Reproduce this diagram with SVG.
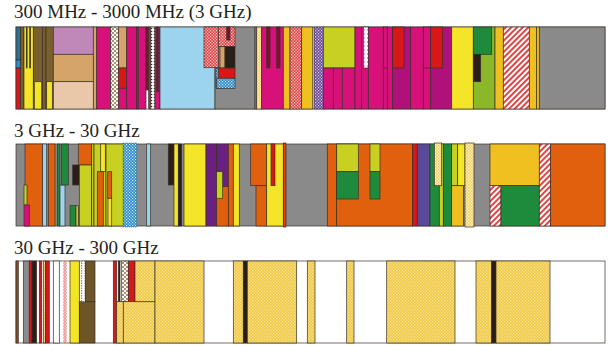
<svg xmlns="http://www.w3.org/2000/svg" width="610" height="346" viewBox="0 0 610 346">
<defs>
<style>
text{font-family:"Liberation Serif","Times New Roman",serif;font-size:19px;fill:#231f20}
.b rect{stroke:#3a302a;stroke-width:0.7}
.mg{fill:#d8107a}.pm{fill:#b0107a}.ye{fill:#f5e528}.go{fill:#f0c020}.or{fill:#e0600e}
.gr{fill:#8a8a8a}.lb{fill:#9cd4ee}.gn{fill:#1e8a3c}.yg{fill:#c8d022}.lg{fill:#8ab828}
.pu{fill:#6a2080}.bp{fill:#584a98}.rd{fill:#d81818}.tn{fill:#d4a46a}.mv{fill:#c088b8}
.pc{fill:#e8c8a8}.ob{fill:#7a6030}.dk{fill:#2a1e18}.mr{fill:#801030}.wh{fill:#ffffff}
.bn{fill:#8b4a20}.bw{fill:#6e5528}
.pdb{fill:url(#dotsBrown)}.pdd{fill:url(#dotsDark)}.pdp{fill:url(#dotsPink)}.pdw{fill:url(#dotsWhite)}
.pcr{fill:url(#checkRed)}.pcb{fill:url(#checkBlue)}.pcp{fill:url(#checkPurple)}.pcg{fill:url(#checkGold)}
.psr{fill:url(#stripesRed)}.pdy{fill:url(#dotYellow)}
</style>
<pattern id="dotsBrown" width="4" height="4" patternUnits="userSpaceOnUse"><rect width="4" height="4" fill="#fff"/><circle cx="1" cy="1" r="0.9" fill="#8b5a2b"/><circle cx="3" cy="3" r="0.9" fill="#8b5a2b"/></pattern>
<pattern id="dotsDark" width="3" height="3" patternUnits="userSpaceOnUse"><rect width="3" height="3" fill="#fff"/><circle cx="1.5" cy="1.5" r="0.8" fill="#3a2a20"/></pattern>
<pattern id="dotsPink" width="3" height="4" patternUnits="userSpaceOnUse"><rect width="3" height="4" fill="#fff"/><circle cx="1.5" cy="2" r="0.8" fill="#e070a8"/></pattern>
<pattern id="dotsWhite" width="3" height="3" patternUnits="userSpaceOnUse"><rect width="3" height="3" fill="#fff"/><rect width="1" height="3" fill="#a07850"/></pattern>
<pattern id="checkRed" width="3" height="3" patternUnits="userSpaceOnUse"><rect width="3" height="3" fill="#e04848"/><rect width="1.2" height="1.2" fill="#fbd0d0"/><rect x="1.5" y="1.5" width="1.2" height="1.2" fill="#fbd0d0"/></pattern>
<pattern id="checkBlue" width="3" height="3" patternUnits="userSpaceOnUse"><rect width="3" height="3" fill="#2a88cc"/><rect width="1.2" height="1.2" fill="#d0ecfa"/><rect x="1.5" y="1.5" width="1.2" height="1.2" fill="#d0ecfa"/></pattern>
<pattern id="checkPurple" width="3" height="3" patternUnits="userSpaceOnUse"><rect width="3" height="3" fill="#6a4a98"/><rect width="1.2" height="1.2" fill="#d8c8ec"/><rect x="1.5" y="1.5" width="1.2" height="1.2" fill="#d8c8ec"/></pattern>
<pattern id="checkGold" width="3" height="3" patternUnits="userSpaceOnUse"><rect width="3" height="3" fill="#f0c840"/><rect width="1.3" height="1.3" fill="#f8e498"/><rect x="1.5" y="1.5" width="1.3" height="1.3" fill="#f8e498"/></pattern>
<pattern id="dotYellow" width="3" height="3" patternUnits="userSpaceOnUse"><rect width="3" height="3" fill="#f3d060"/><rect width="1.3" height="1.3" fill="#fff8d8"/><rect x="1.5" y="1.5" width="1.3" height="1.3" fill="#fff8d8"/></pattern>
<pattern id="stripesRed" width="4" height="4" patternUnits="userSpaceOnUse" patternTransform="rotate(45)"><rect width="4" height="4" fill="#fff"/><rect width="1.8" height="4" fill="#e03030"/></pattern>
</defs>
<rect width="610" height="346" fill="#fff"/>
<text x="14" y="18">300 MHz - 3000 MHz (3 GHz)</text>
<text x="14" y="137">3 GHz - 30 GHz</text>
<text x="14" y="254">30 GHz - 300 GHz</text>

<g id="band1" class="b">
<rect x="16" y="27" width="589" height="82" class="wh"/>
<rect x="16" y="27" width="4.7" height="33" fill="#2a7090"/>
<rect x="16" y="60" width="4.7" height="8" fill="#2090d0"/>
<rect x="16" y="68" width="4.7" height="41" class="rd"/>
<rect x="20.7" y="27" width="3.3" height="82" class="ob"/>
<rect x="24" y="27" width="9.3" height="82" class="ye"/>
<rect x="26.3" y="27" width="0.8" height="41" class="dk"/>
<rect x="29.7" y="27" width="0.8" height="41" class="dk"/>
<rect x="33.3" y="27" width="9.4" height="82" class="ob"/>
<rect x="34.3" y="81.7" width="7.4" height="27.3" class="ye"/>
<rect x="42.7" y="27" width="3.3" height="82" class="ob"/>
<rect x="46" y="27" width="7.3" height="82" class="ob"/>
<rect x="46.7" y="81.7" width="5.6" height="27.3" class="ye"/>
<rect x="53.3" y="27" width="40" height="27.3" class="mv"/>
<rect x="53.3" y="54.3" width="40" height="27.4" class="tn"/>
<rect x="53.3" y="81.7" width="40" height="27.3" class="pc"/>
<rect x="93.3" y="27" width="3.4" height="82" class="tn"/>
<rect x="96.7" y="27" width="14" height="82" class="mg"/>
<rect x="110.7" y="27" width="8" height="82" class="pdb"/>
<rect x="118.7" y="27" width="8" height="41" class="tn"/>
<rect x="118.7" y="68" width="8" height="20.3" class="rd"/>
<rect x="118.7" y="88.3" width="8" height="20.7" class="mg"/>
<rect x="126.7" y="27" width="10" height="82" class="mg"/>
<rect x="136.7" y="27" width="1.6" height="82" class="pm"/>
<rect x="138.3" y="27" width="7.7" height="82" class="mg"/>
<rect x="146" y="27" width="2.7" height="63" class="mr"/>
<rect x="148.7" y="27" width="2" height="82" class="mg"/>
<rect x="150.7" y="27" width="4.3" height="82" class="pdd"/>
<rect x="155" y="27" width="5" height="82" class="mg"/>
<rect x="156.7" y="27" width="1.6" height="64.7" class="mr"/>
<rect x="160" y="27" width="55" height="82" class="lb"/>
<rect x="215" y="27" width="40" height="82" class="gr"/>
<rect x="204" y="27" width="14.3" height="40.7" class="pcr"/>
<rect x="216" y="68" width="4" height="20.3" class="pcb"/>
<rect x="218.3" y="27" width="16.7" height="19.7" class="pcr"/>
<rect x="226.7" y="27" width="3.3" height="13" class="mr"/>
<rect x="220" y="46.7" width="5" height="21.3" class="tn"/>
<rect x="225" y="46.7" width="10" height="21.3" class="dk"/>
<rect x="218.3" y="68" width="16.7" height="10.3" class="rd"/>
<rect x="216.7" y="78.3" width="18.3" height="10" class="pcb"/>
<rect x="255" y="27" width="1.7" height="82" class="gr"/>
<rect x="256.7" y="27" width="5" height="82" class="pdy"/>
<rect x="261.7" y="27" width="21.6" height="82" class="mg"/>
<rect x="266.7" y="27" width="3.3" height="41" class="mr"/>
<rect x="276.7" y="27" width="3.3" height="41" class="mr"/>
<rect x="283.3" y="27" width="6.7" height="82" class="go"/>
<rect x="290" y="27" width="11.7" height="82" class="pcr"/>
<rect x="301.7" y="27" width="11" height="82" class="go"/>
<rect x="314" y="27" width="9.3" height="82" class="pcp"/>
<rect x="323.3" y="27" width="31.7" height="41" class="yg"/>
<rect x="323.3" y="68" width="10" height="41" class="mg"/>
<rect x="333.3" y="68" width="9" height="41" class="mg"/>
<rect x="342.3" y="68" width="12.7" height="41" class="mg"/>
<rect x="355" y="27" width="6.7" height="82" class="mg"/>
<rect x="361.7" y="27" width="6.6" height="82" class="mg"/>
<rect x="363.3" y="27" width="5" height="41" class="pdp"/>
<rect x="368.3" y="27" width="15" height="82" class="mg"/>
<rect x="383.3" y="27" width="4" height="82" class="mg"/>
<rect x="383.3" y="27" width="4" height="41" class="mg"/>
<rect x="387.3" y="27" width="5.4" height="82" class="mg"/>
<rect x="392.7" y="27" width="18" height="82" class="pm"/>
<rect x="392.7" y="27" width="11.3" height="41" class="rd"/>
<rect x="410.7" y="27" width="12.6" height="82" class="mg"/>
<rect x="423.3" y="27" width="7.4" height="82" class="mg"/>
<rect x="423.3" y="27" width="7.4" height="41" class="mg"/>
<rect x="430.7" y="27" width="21" height="82" class="pm"/>
<rect x="430.7" y="27" width="12" height="41" class="rd"/>
<rect x="451.7" y="27" width="21.6" height="82" class="ye"/>
<rect x="473.3" y="27" width="21.7" height="82" class="lg"/>
<rect x="473.3" y="27" width="18.4" height="27.3" class="gn"/>
<rect x="473.3" y="54.3" width="7.4" height="27.4" class="dk"/>
<rect x="495" y="27" width="8.3" height="82" class="go"/>
<rect x="503.3" y="27" width="26" height="82" class="psr"/>
<rect x="529.3" y="27" width="7.4" height="82" class="go"/>
<rect x="536.7" y="27" width="2.6" height="82" class="go"/>
<rect x="539.3" y="27" width="65.7" height="82" class="gr"/>
</g>

<g id="band2" class="b">
<rect x="16" y="144" width="589" height="82" class="gr"/>
<rect x="25" y="144" width="17.7" height="82" class="or"/>
<rect x="24" y="185" width="3" height="20" class="yg"/>
<rect x="24" y="205" width="5.3" height="21" class="mg"/>
<rect x="42.7" y="144" width="4" height="82" class="lb"/>
<rect x="48.3" y="144" width="6.7" height="82" class="or"/>
<rect x="57.3" y="144" width="2.7" height="82" class="gn"/>
<rect x="60" y="185" width="5" height="41" class="lb"/>
<rect x="61.7" y="144" width="6.6" height="41" class="gn"/>
<rect x="72.7" y="165" width="6.6" height="20" class="dk"/>
<rect x="70" y="205.7" width="6" height="20.3" class="gn"/>
<rect x="76" y="205.7" width="2.3" height="20.3" class="yg"/>
<rect x="78.3" y="144" width="13.4" height="21" class="or"/>
<rect x="79.3" y="165" width="12.4" height="61" class="yg"/>
<rect x="91.7" y="144" width="2.3" height="82" class="yg"/>
<rect x="94" y="144" width="12" height="82" class="yg"/>
<rect x="100.7" y="144" width="4.6" height="27.7" class="ye"/>
<rect x="97.3" y="171.7" width="6" height="54.3" class="or"/>
<rect x="106" y="144" width="17.3" height="82" class="yg"/>
<rect x="107.7" y="171.7" width="4" height="26.6" class="or"/>
<rect x="108" y="198.3" width="3.7" height="27.7" class="ye"/>
<rect x="123.3" y="143" width="13.4" height="84" class="pcb" style="stroke:#2a6a3a;stroke-dasharray:1 1"/>
<rect x="146.7" y="144" width="4" height="82" class="lb"/>
<rect x="168.3" y="144" width="5.7" height="41" class="dk"/>
<rect x="174" y="144" width="4.3" height="82" class="ye"/>
<rect x="178.3" y="144" width="3.4" height="82" class="dk"/>
<rect x="184" y="144" width="22" height="82" class="ye"/>
<rect x="206" y="144" width="10.7" height="82" class="pu"/>
<rect x="216.7" y="144" width="11.6" height="42.7" class="pu"/>
<rect x="216.7" y="186.7" width="11.6" height="39.3" class="or"/>
<rect x="216.7" y="171.7" width="6" height="26.6" class="yg"/>
<rect x="228.3" y="144" width="5" height="82" class="or"/>
<rect x="233.3" y="144" width="6" height="82" class="ye"/>
<rect x="250.7" y="144" width="16" height="41.7" class="or"/>
<rect x="256" y="185.7" width="10.7" height="40.3" class="or"/>
<rect x="266.7" y="144" width="16.6" height="82" class="ye"/>
<rect x="271" y="144" width="4" height="41.7" class="rd"/>
<rect x="283.3" y="143" width="2.7" height="84" fill="#e04010"/>
<rect x="327.3" y="144" width="9.4" height="82" class="or"/>
<rect x="336.7" y="144" width="76" height="82" class="or"/>
<rect x="336.7" y="144" width="21.6" height="27.7" class="yg"/>
<rect x="336.7" y="171.7" width="21.6" height="27.3" class="gn"/>
<rect x="370" y="144" width="10" height="27.7" class="yg"/>
<rect x="370" y="171.7" width="10" height="27.3" class="gn"/>
<rect x="412.7" y="144" width="4.6" height="82" class="rd"/>
<rect x="417.3" y="144" width="12.7" height="82" class="bp"/>
<rect x="430" y="144" width="9.3" height="82" class="gn"/>
<rect x="439.3" y="144" width="4" height="82" class="yg"/>
<rect x="443.3" y="144" width="8.4" height="82" class="gn"/>
<rect x="434.3" y="143" width="7.4" height="42.7" class="pdy"/>
<rect x="451.7" y="144" width="6" height="41.7" class="yg"/>
<rect x="457.7" y="144" width="7.3" height="41.7" class="ye"/>
<rect x="451.7" y="185.7" width="11.6" height="40.3" class="go"/>
<rect x="465" y="143" width="9" height="84" class="pdy"/>
<rect x="490" y="144" width="49.3" height="41.7" class="go"/>
<rect x="490" y="185.7" width="11" height="40.3" class="psr"/>
<rect x="501" y="185.7" width="38.3" height="40.3" class="gn"/>
<rect x="539.3" y="144" width="11.4" height="82" class="psr"/>
<rect x="550.7" y="144" width="54.3" height="82" class="or"/>
</g>

<g id="band3" class="b">
<rect x="16" y="261" width="589" height="82" class="wh"/>
<rect x="16" y="261" width="2.3" height="82" class="bn"/>
<rect x="23.3" y="261" width="6" height="82" class="gr"/>
<rect x="29.3" y="261" width="2.7" height="82" class="rd"/>
<rect x="32" y="261" width="4.7" height="82" class="dk"/>
<rect x="39.3" y="261" width="2.4" height="82" class="rd"/>
<rect x="43.3" y="261" width="2" height="82" class="pdy"/>
<rect x="45.3" y="261" width="4" height="82" class="rd"/>
<rect x="53.3" y="261" width="6" height="82" class="wh"/>
<rect x="63.3" y="261" width="3.4" height="82" fill="url(#checkRed)" style="stroke:none;opacity:0.6"/>
<rect x="70" y="261" width="9.3" height="82" class="ye"/>
<rect x="79.3" y="301.7" width="15.7" height="41.3" class="bw"/>
<rect x="85" y="261" width="10" height="40.7" class="bw"/>
<rect x="81.7" y="261" width="3.3" height="40.7" class="wh" style="stroke-dasharray:1.5 1"/>
<rect x="113.3" y="261" width="3.4" height="82" class="rd"/>
<rect x="118.3" y="261" width="1.7" height="82" class="dk"/>
<rect x="121.7" y="261" width="6.6" height="40.7" class="pdb"/>
<rect x="128.3" y="261" width="6.7" height="40.7" class="rd"/>
<rect x="116.7" y="301.7" width="6.6" height="41.3" class="pcg"/>
<rect x="123.3" y="301.7" width="31.7" height="41.3" class="pcg"/>
<rect x="135" y="261" width="20" height="40.7" class="pcg"/>
<rect x="155" y="261" width="49" height="82" class="pcg"/>
<rect x="233.3" y="261" width="10" height="82" class="pcg"/>
<rect x="243.3" y="261" width="4" height="82" class="dk"/>
<rect x="247.3" y="261" width="49.4" height="82" class="pcg"/>
<rect x="307.3" y="261" width="7.7" height="82" class="pcg"/>
<rect x="346.7" y="261" width="7.3" height="82" class="pcg"/>
<rect x="386.7" y="261" width="68.3" height="82" class="pcg"/>
<rect x="476" y="261" width="15.7" height="82" class="pcg"/>
<rect x="491.7" y="261" width="4.3" height="82" class="dk"/>
<rect x="496" y="261" width="54" height="82" class="pcg"/>
</g>
</svg>
